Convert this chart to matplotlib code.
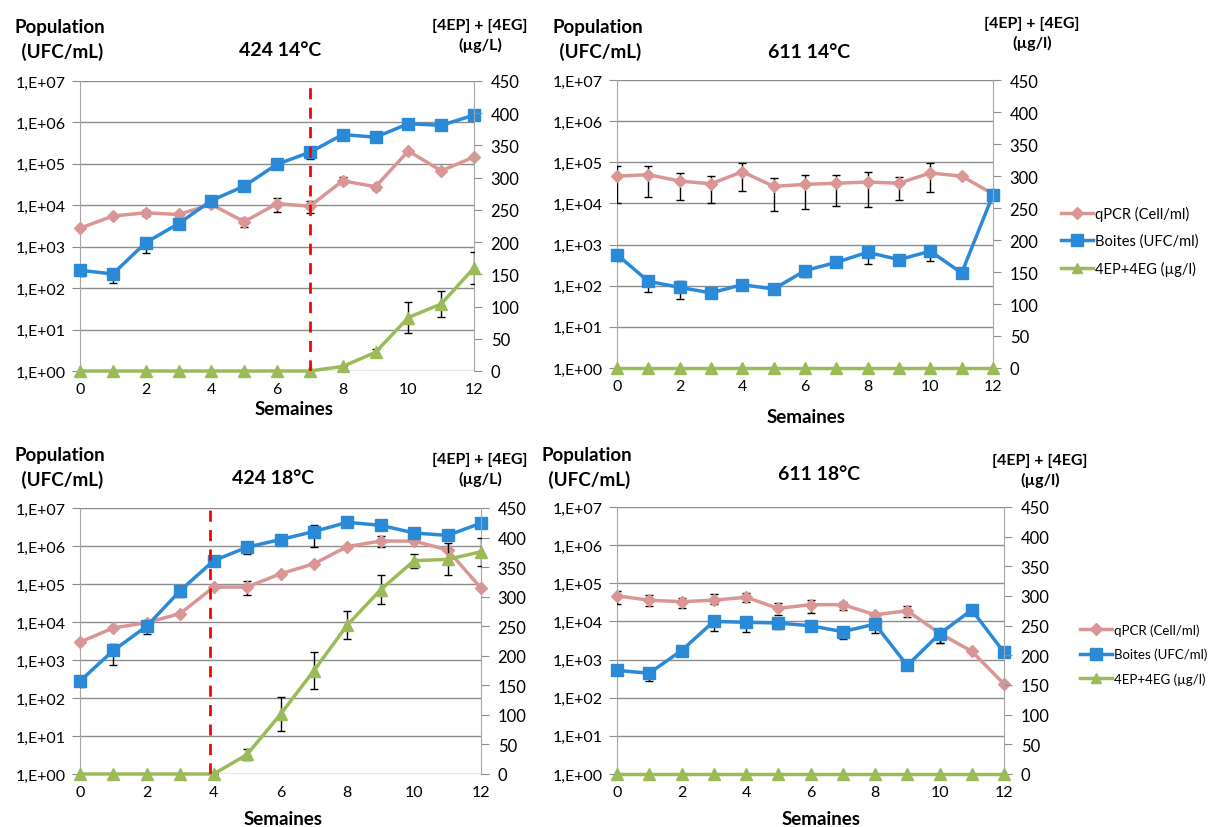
import numpy as np
import matplotlib
matplotlib.use('Agg')
import matplotlib.pyplot as plt
from matplotlib.lines import Line2D

plt.rcParams['font.family'] = ['Lato', 'DejaVu Sans']

weeks = np.arange(13)

# 424 14°C
p1_qpcr = [2800, 5500, 6600, 6000, 10500, 4000, 11000, 9500, 39000, 28000, 205000, 68000, 146000]
p1_qpcr_lo = [2800, 5500, 5600, 5200, 10500, 3000, 7000, 6500, 32000, 24000, 205000, 68000, 146000]
p1_qpcr_hi = [2800, 5500, 7600, 6800, 10500, 5000, 15000, 13000, 48000, 31000, 205000, 68000, 146000]
p1_boites = [270, 220, 1250, 3600, 13000, 29000, 98000, 190000, 510000, 440000, 930000, 850000, 1500000]
p1_boites_lo = [200, 130, 700, 2800, 11000, 23000, 80000, 130000, 510000, 440000, 930000, 850000, 1300000]
p1_boites_hi = [270, 220, 1600, 3800, 13000, 29000, 98000, 190000, 510000, 440000, 930000, 850000, 1500000]
p1_eth = [0, 0, 0, 0, 0, 0, 0, 0, 7, 29, 83, 104, 160]
p1_eth_err = [0, 0, 0, 0, 0, 0, 0, 0, 0, 5, 24, 20, 25]

# 611 14°C
p2_qpcr = [46000, 50000, 35000, 30000, 59000, 26000, 29000, 31000, 33000, 31000, 55000, 46000, 17000]
p2_qpcr_lo = [10200, 14000, 12000, 10000, 20000, 6600, 7200, 8500, 8100, 12000, 19000, 46000, 17000]
p2_qpcr_hi = [80000, 79000, 54000, 47000, 95000, 42000, 50000, 50000, 57000, 45000, 95000, 46000, 17000]
p2_boites = [570, 128, 91, 67, 106, 83, 233, 370, 650, 430, 690, 204, 16300]
p2_boites_lo = [400, 69, 48, 67, 106, 83, 160, 370, 340, 430, 400, 204, 16300]
p2_boites_hi = [570, 160, 128, 67, 106, 83, 233, 370, 650, 430, 690, 204, 16300]
p2_eth = [0] * 13

# 424 18°C
p3_qpcr = [2950, 7000, 9600, 16700, 83000, 83000, 186000, 340000, 970000, 1350000, 1350000, 790000, 78000]
p3_qpcr_lo = [2950, 7000, 9600, 16700, 83000, 52000, 186000, 340000, 970000, 930000, 1350000, 790000, 78000]
p3_qpcr_hi = [2950, 7000, 9600, 16700, 83000, 117000, 186000, 340000, 970000, 1800000, 1350000, 790000, 78000]
p3_boites = [280, 1780, 7800, 67000, 410000, 930000, 1480000, 2400000, 4200000, 3500000, 2200000, 1900000, 4000000]
p3_boites_lo = [200, 750, 4900, 45000, 410000, 620000, 1480000, 970000, 4200000, 3500000, 2200000, 1900000, 4000000]
p3_boites_hi = [280, 2700, 10500, 67000, 410000, 930000, 1480000, 3500000, 4200000, 3500000, 2200000, 1900000, 4000000]
p3_eth = [0, 0, 0, 0, 0, 33, 101, 175, 252, 312, 361, 363, 376]
p3_eth_err = [0, 0, 0, 0, 0, 10, 29, 32, 24, 24, 12, 27, 24]

# 611 18°C
p4_qpcr = [47000, 36000, 33000, 36000, 43000, 22000, 27500, 27500, 15000, 19000, 4900, 1650, 230]
p4_qpcr_lo = [28500, 25000, 22000, 28500, 32000, 14500, 17000, 20000, 11500, 13000, 2800, 1650, 230]
p4_qpcr_hi = [63000, 49000, 41000, 52000, 55000, 30000, 37000, 33000, 15000, 25000, 4900, 1650, 230]
p4_boites = [520, 440, 1720, 10000, 9500, 9100, 7700, 5400, 8500, 700, 4700, 20000, 1550]
p4_boites_lo = [520, 280, 1720, 5700, 5200, 6300, 6000, 3500, 4900, 700, 2700, 20000, 1550]
p4_boites_hi = [520, 440, 1720, 13000, 9500, 9100, 7700, 5400, 8500, 700, 4700, 20000, 1550]
p4_eth = [0] * 13

pink = '#D99694'
blue = '#2A8AD8'
green = '#9BBB59'
grey = '#8C8C8C'

W, H = 1209, 828
fig = plt.figure(figsize=(12.09, 8.28), dpi=100)


def fx(px):
    return px / W


def fy(py):
    return 1 - py / H


def panel(box, title, qpcr, qlo, qhi, boites, blo, bhi, eth, eth_err, vline,
          texts):
    left, top, right, bottom = box
    ax = fig.add_axes([fx(left), fy(bottom), fx(right - left), fy(top) - fy(bottom)])
    ax.set_yscale('log')
    ax.set_ylim(1, 1e7)
    ax.set_xlim(0, 12)
    ax.set_yticks([10.0 ** k for k in range(8)])
    ax.set_yticklabels(['1,E+0%d' % k for k in range(8)])
    ax.minorticks_off()
    ax.set_xticks(range(0, 13, 2))
    ax.grid(axis='y', color=grey, lw=1)
    for s in ['top', 'right']:
        ax.spines[s].set_visible(False)
    ax.spines['left'].set_color('#A6A6A6')
    ax.spines['bottom'].set_visible(False)
    ax.tick_params(axis='y', length=6, color=grey, labelsize=11.5, pad=4)
    ax.tick_params(axis='x', which='both', length=0, labelsize=11.5, pad=8)

    q = np.array(qpcr, float)
    b = np.array(boites, float)
    ax.errorbar(weeks, q, yerr=[q - np.array(qlo), np.array(qhi) - q], fmt='none',
                ecolor='black', elinewidth=1, capsize=3, zorder=3)
    ax.errorbar(weeks, b, yerr=[b - np.array(blo), np.array(bhi) - b], fmt='none',
                ecolor='black', elinewidth=1, capsize=3, zorder=3)
    ax.plot(weeks, q, color=pink, lw=2.5, marker='D', ms=6, zorder=4, clip_on=False)
    ax.plot(weeks, b, color=blue, lw=2.5, marker='s', ms=9, zorder=5, clip_on=False)

    ax2 = ax.twinx()
    ax2.set_ylim(0, 450)
    ax2.set_yticks(range(0, 451, 50))
    for s in ['top', 'left', 'bottom']:
        ax2.spines[s].set_visible(False)
    ax2.spines['right'].set_color('#A6A6A6')
    ax2.tick_params(axis='y', length=6, color=grey, labelsize=12, pad=6)
    if eth_err is not None:
        ax2.errorbar(weeks, eth, yerr=eth_err, fmt='none', ecolor='black',
                     elinewidth=1, capsize=3, zorder=3)
    ax2.plot(weeks, eth, color=green, lw=2.5, marker='^', ms=8, zorder=4, clip_on=False)
    if vline is not None:
        ax2.axvline(vline, color='#FF0000', lw=2, ls=(0, (4, 3)), zorder=6)

    (popx, popy), (tx, ty), (rx, ry), (sx, sy), unit = texts
    fig.text(fx(popx), fy(popy), 'Population\n (UFC/mL)', fontsize=13.5,
             fontweight='bold', ha='center', va='center', linespacing=1.4)
    fig.text(fx(tx), fy(ty), title, fontsize=14, fontweight='bold',
             ha='center', va='center')
    fig.text(fx(rx), fy(ry), '[4EP] + [4EG]\n' + unit, fontsize=11.5,
             fontweight='bold', ha='center', va='center', linespacing=1.35)
    fig.text(fx(sx), fy(sy), 'Semaines', fontsize=13.5, fontweight='bold',
             ha='center', va='center')
    return ax


panel((80, 82, 474, 372), '424 14°C', p1_qpcr, p1_qpcr_lo, p1_qpcr_hi,
      p1_boites, p1_boites_lo, p1_boites_hi, p1_eth, p1_eth_err, 7,
      [(60, 40), (280, 50), (480, 36), (294, 410), '(µg/L)'])
panel((617, 81, 993, 369), '611 14°C', p2_qpcr, p2_qpcr_lo, p2_qpcr_hi,
      p2_boites, p2_boites_lo, p2_boites_hi, p2_eth, None, None,
      [(598, 40), (809, 52), (1032, 34), (806, 418), '(µg/l)'])
panel((80, 509, 481, 775), '424 18°C', p3_qpcr, p3_qpcr_lo, p3_qpcr_hi,
      p3_boites, p3_boites_lo, p3_boites_hi, p3_eth, p3_eth_err, 3.88,
      [(60, 468), (273, 479), (480, 470), (283, 820), '(µg/L)'])
panel((617, 508, 1004, 775), '611 18°C', p4_qpcr, p4_qpcr_lo, p4_qpcr_hi,
      p4_boites, p4_boites_lo, p4_boites_hi, p4_eth, None, None,
      [(587, 468), (819, 475), (1040, 471), (821, 820), '(µg/l)'])

handles = [Line2D([], [], color=pink, lw=2.5, marker='D', ms=6),
           Line2D([], [], color=blue, lw=2.5, marker='s', ms=8),
           Line2D([], [], color=green, lw=2.5, marker='^', ms=7)]
labels = ['qPCR (Cell/ml)', 'Boites (UFC/ml)', '4EP+4EG (µg/l)']
fig.legend(handles, labels, loc='center left', bbox_to_anchor=(fx(1061), fy(242)),
           frameon=False, fontsize=10.5, handlelength=2.2, handletextpad=0.15,
           labelspacing=0.85, borderpad=0, borderaxespad=0)
fig.legend(handles, labels, loc='center left', bbox_to_anchor=(fx(1080), fy(655)),
           frameon=False, fontsize=9.5, handlelength=2.4, handletextpad=0.15,
           labelspacing=0.9, borderpad=0, borderaxespad=0)

fig.savefig('out.png', dpi=100)
